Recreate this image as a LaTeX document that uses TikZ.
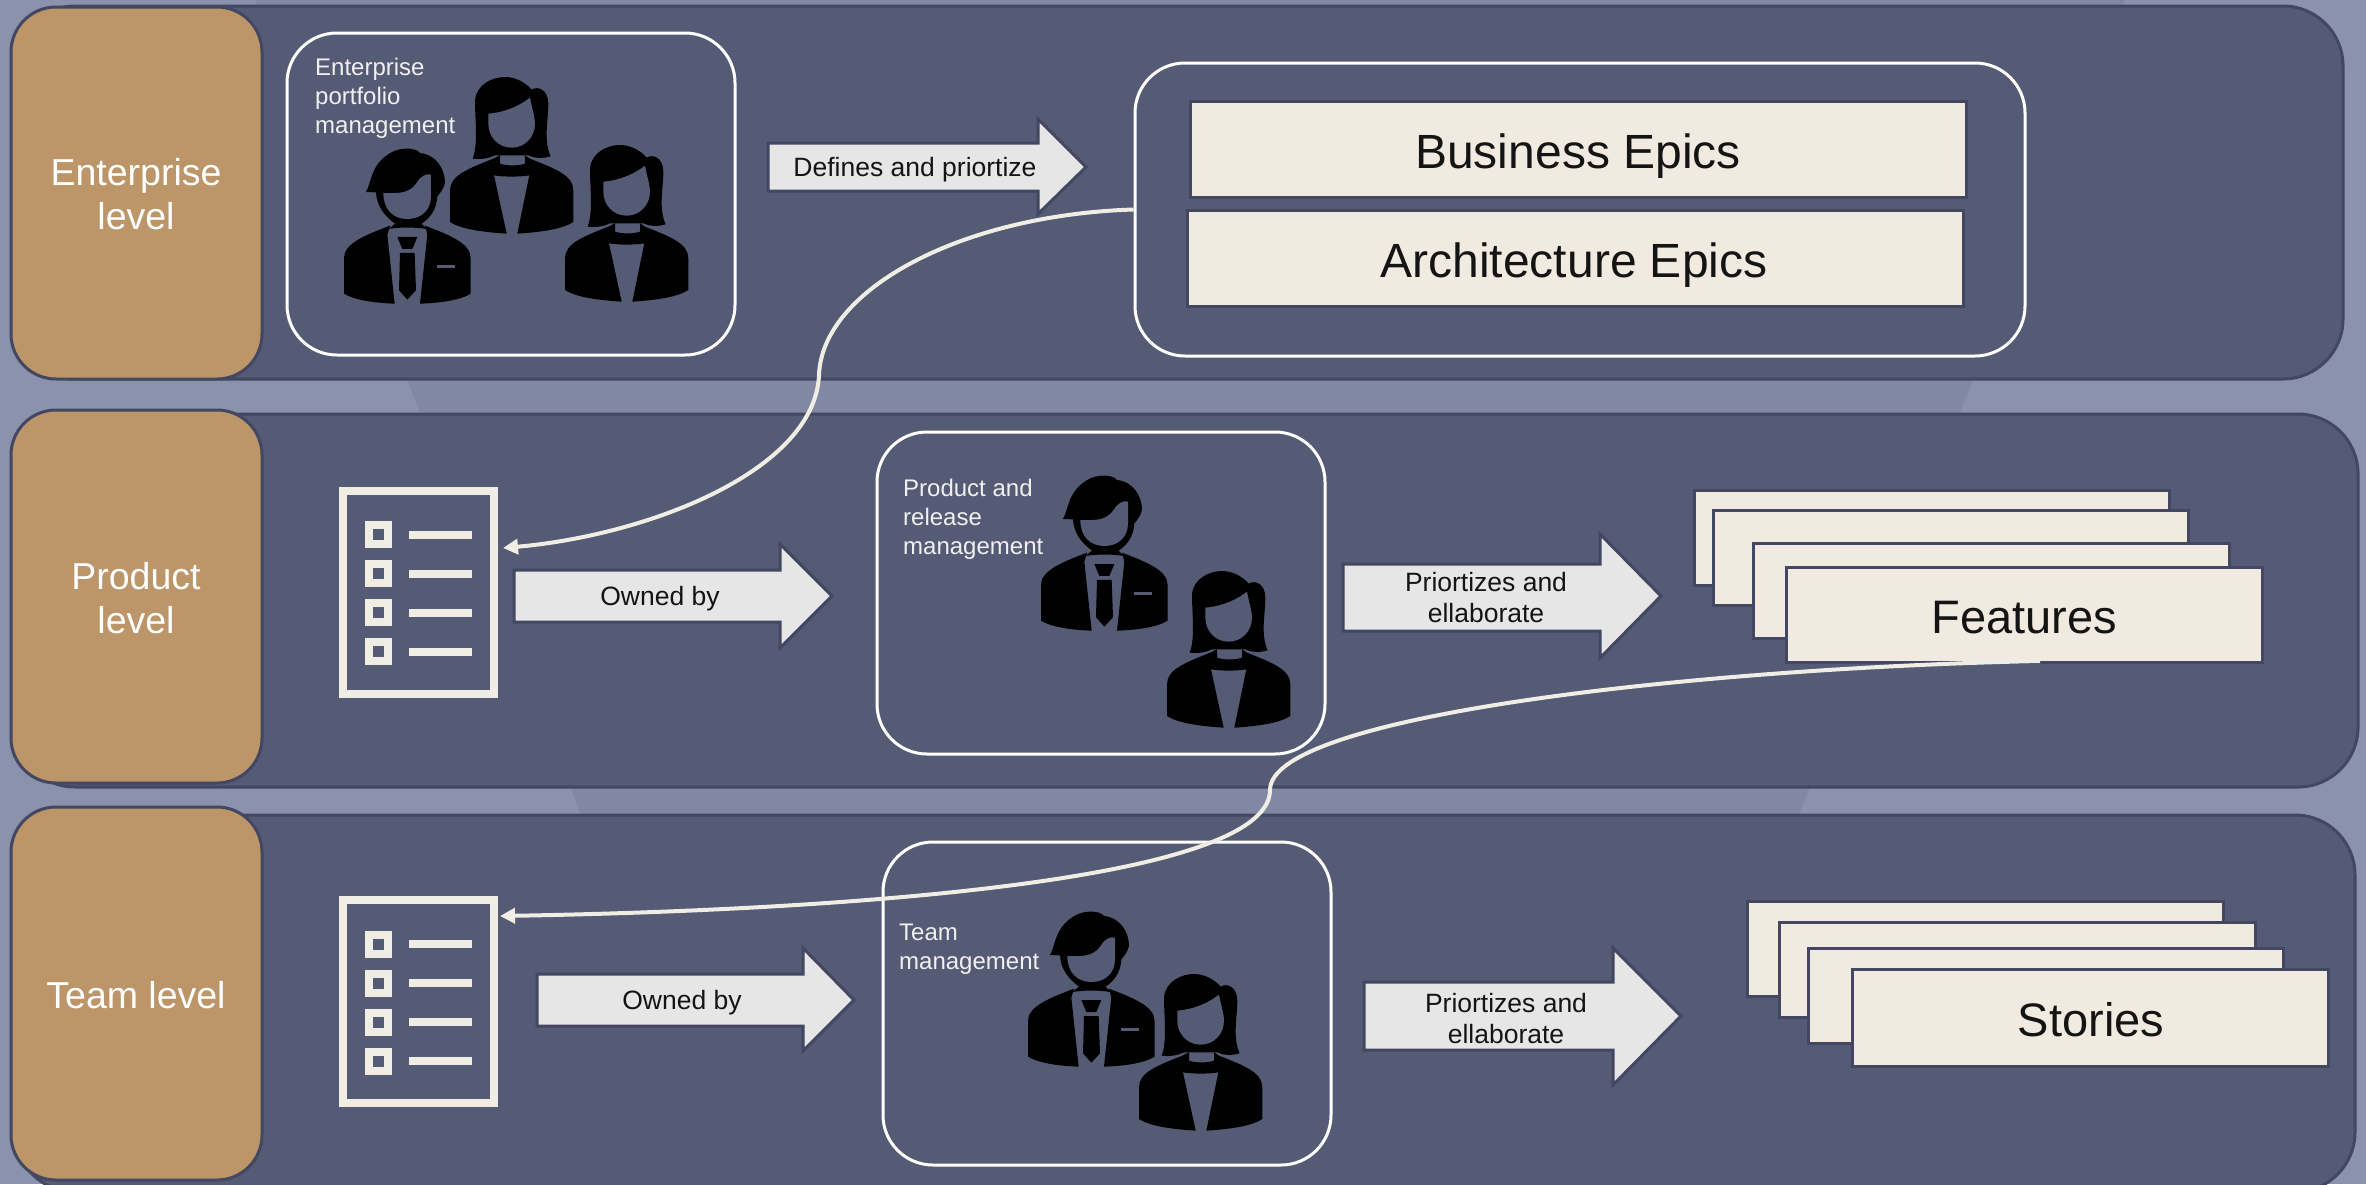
\documentclass[tikz,border=0pt]{standalone}
\usepackage{fontspec}
\setmainfont{Liberation Sans}
\usetikzlibrary{arrows.meta}
\definecolor{outerbg}{HTML}{8A92AC}
\definecolor{midbg}{HTML}{8088A3}
\definecolor{bandcol}{HTML}{555A75}
\definecolor{edgecol}{HTML}{434761}
\definecolor{labelcol}{HTML}{BC9569}
\definecolor{cardcol}{HTML}{F1EAE0}
\definecolor{iconcol}{HTML}{F0EEE4}
\definecolor{arrowcol}{HTML}{E6E6E6}
\definecolor{inkcol}{HTML}{141414}
\newcommand{\bx}[6]{\node[#2,minimum width={(#5)-(#3)},minimum height={(#6)-(#4)}] (#1) at ({((#3)+(#5))/2},{((#4)+(#6))/2}) {};}
\newcommand{\barrowshape}[8]{\draw[blockarrow] (#1,#2) -- (#4,#2) -- (#4,#5) -- (#7,#8) -- (#4,#6) -- (#4,#3) -- (#1,#3) -- cycle;}
\tikzset{
  x=1pt,y=-1pt,
  band/.style={draw=edgecol,line width=3pt,fill=bandcol,rounded corners=60pt,inner sep=0pt},
  levelbox/.style={draw=edgecol,line width=3pt,fill=labelcol,rounded corners=45pt,inner sep=0pt},
  teambox/.style={draw=white,line width=3pt,rounded corners=50pt,inner sep=0pt},
  card/.style={draw=edgecol,line width=3pt,fill=cardcol,inner sep=0pt},
  blockarrow/.style={draw=edgecol,line width=3pt,fill=arrowcol,line join=miter},
  leveltext/.style={text=white,align=center,inner sep=0pt,font=\fontsize{37.5}{44.5}\selectfont},
  roletext/.style={text=white!94!black,align=left,anchor=west,inner sep=0pt,font=\fontsize{24}{29}\selectfont},
  arrowtext/.style={text=inkcol,align=center,inner sep=0pt,font=\fontsize{26.5}{31}\selectfont},
  epictext/.style={text=inkcol,inner sep=0pt,font=\fontsize{48}{58}\selectfont},
  stacktext/.style={text=inkcol,inner sep=0pt,font=\fontsize{47}{56}\selectfont},
  flow/.style={draw=iconcol,line width=4pt,-{Triangle[length=15pt,width=15pt]}},
  male/.pic={
    \begin{scope}[shift={(-192,-385)}]
      \fill[black] (192,822) -- (192,715) .. controls (192,670) and (260,645) .. (330,618) -- (322,645) -- (344,852) .. controls (280,850) and (220,840) .. (192,822) -- cycle;
      \fill[black] (572,822) -- (572,715) .. controls (572,670) and (505,645) .. (435,618) -- (442,645) -- (420,852) .. controls (485,850) and (545,840) .. (572,822) -- cycle;
      \fill[black] (258,517) .. controls (275,490) and (270,430) .. (340,395) .. controls (370,382) and (410,385) .. (420,400) .. controls (470,405) and (495,450) .. (495,490) .. controls (490,510) and (480,520) .. (472,530) .. controls (470,570) and (450,595) .. (425,612) -- (440,628) .. controls (400,622) and (365,622) .. (325,628) -- (345,612) .. controls (315,590) and (290,560) .. (288,518) -- cycle;
      \fill[bandcol] (310,520) .. controls (350,520) and (385,525) .. (410,490) .. controls (420,470) and (440,460) .. (453,465) -- (453,530) .. controls (453,570) and (425,598) .. (382,598) .. controls (340,598) and (310,570) .. (310,520) -- cycle;
      \fill[black] (352,652) -- (412,652) -- (397,688) -- (367,688) -- cycle;
      \fill[black] (360,700) -- (404,700) -- (408,812) -- (382,840) -- (357,812) -- cycle;
      \fill[bandcol] (472,735) rectangle (524,745);
    \end{scope}
  },
  female/.pic={
    \begin{scope}[shift={(-510,-170)}]
      \fill[black] (510,605) -- (510,510) .. controls (510,465) and (565,445) .. (640,415) -- (660,405) -- (660,430) .. controls (680,437) and (715,437) .. (735,430) -- (735,405) -- (750,415) .. controls (825,445) and (880,465) .. (880,510) -- (880,605) .. controls (850,625) and (790,635) .. (712,640) -- (748,465) .. controls (720,470) and (670,470) .. (642,465) -- (680,640) .. controls (600,635) and (540,625) .. (510,605) -- cycle;
      \fill[black] (578,415) .. controls (595,370) and (585,300) .. (585,240) .. controls (590,190) and (640,170) .. (675,170) .. controls (710,170) and (740,190) .. (755,208) .. controls (775,195) and (805,210) .. (805,250) .. controls (805,300) and (790,360) .. (812,408) .. controls (790,415) and (765,415) .. (745,405) -- (645,405) .. controls (625,415) and (600,418) .. (578,415) -- cycle;
      \fill[bandcol] (625,280) .. controls (680,275) and (720,255) .. (750,232) .. controls (755,260) and (765,290) .. (765,310) .. controls (765,350) and (735,382) .. (695,382) .. controls (655,382) and (625,350) .. (625,310) -- cycle;
    \end{scope}
  },
  checklist/.pic={
    \draw[iconcol,line width=8pt] (343,490) rectangle (494,693);
    \foreach \yy in {534,573,612,651}{
      \draw[iconcol,line width=8pt] (369,\yy-9.5) rectangle (388,\yy+9.5);
      \fill[iconcol] (409,\yy-4) rectangle (472,\yy+4);
    }
  }
}
\begin{document}
\begin{tikzpicture}
\useasboundingbox (0,0) rectangle (2366,1184);
\fill[outerbg] (0,0) rectangle (2366,1184);
\fill[midbg] (255,0) -- (2125,0) -- (1651,1184) -- (729,1184) -- cycle;
% bands
\bx{bandA}{band}{15}{6}{2343}{379}
\bx{bandB}{band}{15}{414}{2358}{787}
\bx{bandC}{band}{15}{815}{2355}{1192}
% level boxes
\bx{levA}{levelbox}{11}{7}{262}{379}
\bx{levB}{levelbox}{11}{410}{262}{783}
\bx{levC}{levelbox}{11}{807}{262}{1180}
\node[leveltext] (levAt) at (136,194) {Enterprise\\level};
\node[leveltext] (levBt) at (136,598) {Product\\level};
\node[leveltext] (levCt) at (136,995) {Team level};
% team boxes
\bx{boxA}{teambox}{287}{33}{735}{355}
\bx{boxE}{teambox}{1135}{63}{2025}{356}
\bx{boxB}{teambox}{877}{432}{1325}{754}
\bx{boxC}{teambox}{883}{842}{1331}{1165}
\node[roletext] (roleA) at (315,98.5) {Enterprise\\portfolio\\management};
\node[roletext] (roleB) at (903,519) {Product and\\release\\management};
\node[roletext] (roleC) at (899,949) {Team\\management};
% people
\pic[scale=0.3333] (pa) at (344,148) {male};
\pic[scale=0.3333] (pb) at (450,77) {female};
\pic[scale=0.3333] (pc) at (565,145) {female};
\pic[scale=0.3333] (pd) at (1041,475) {male};
\pic[scale=0.3333] (pe) at (1167,571) {female};
\pic[scale=0.3333] (pf) at (1028,911) {male};
\pic[scale=0.3333] (pg) at (1139,974) {female};
% epics
\bx{bizE}{card}{1190}{101}{1966}{197}
\bx{archE}{card}{1187}{210}{1963}{306}
\node[epictext] (bizT) at (1578,156) {Business Epics};
\node[epictext] (archT) at (1574,265) {Architecture Epics};
% feature stack
\bx{fa}{card}{1694}{490}{2169}{585}
\bx{fb}{card}{1713}{510}{2188}{605}
\bx{fc}{card}{1753}{543}{2229}{638}
\bx{fd}{card}{1786}{567}{2262}{662}
\node[stacktext] (fdT) at (2024,618) {Features};
% story stack
\bx{sa}{card}{1747}{901}{2223}{996}
\bx{sb}{card}{1779}{922}{2255}{1017}
\bx{sc}{card}{1808}{948}{2283}{1043}
\bx{sd}{card}{1852}{969}{2328}{1066}
\node[stacktext] (sdT) at (2091,1020) {Stories};
% checklists
\pic (chkA) at (0,0.5) {checklist};
\pic (chkB) at (0,410) {checklist};
% block arrows
\barrowshape{768}{143}{191}{1038}{119}{214}{1086}{167}
\node[arrowtext] (arA) at (915,170) {Defines and priortize};
\barrowshape{514}{570}{622}{780}{544}{648}{832}{596}
\node[arrowtext] (arB) at (660,599) {Owned by};
\barrowshape{537}{974}{1026}{803}{948}{1051}{854}{1000}
\node[arrowtext] (arC) at (682,1003) {Owned by};
\barrowshape{1343}{564}{631}{1600}{534}{658}{1661}{596}
\node[arrowtext] (arD) at (1486,598) {Priortizes and\\ellaborate};
\barrowshape{1364}{982}{1050}{1613}{948}{1085}{1681}{1016}
\node[arrowtext] (arE) at (1506,1018.5) {Priortizes and\\ellaborate};
% connectors
\coordinate (listA) at (503,548);
\coordinate (listB) at (500,916);
\coordinate (featOut) at (2040,661);
\draw[flow] (boxE.west) .. controls (960,215) and (822,290) .. (819,375) .. controls (815,470) and (650,535) .. (listA);
\draw[flow] (featOut) .. controls (1700,668) and (1270,715) .. (1270,790) .. controls (1270,880) and (850,910) .. (listB);
\end{tikzpicture}
\end{document}
